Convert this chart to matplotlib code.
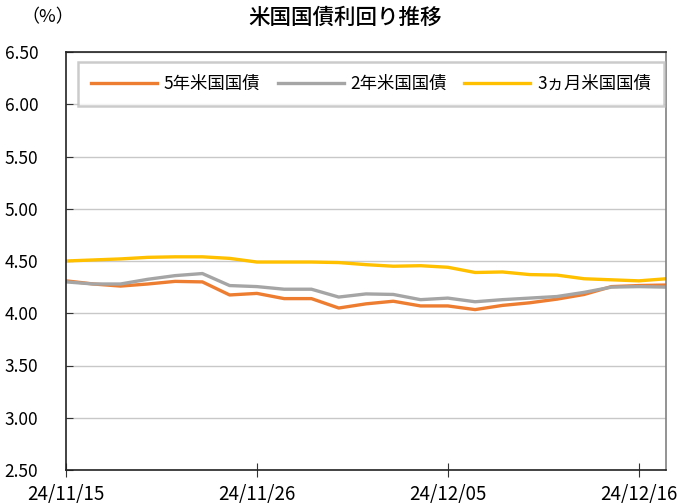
import matplotlib
matplotlib.use("Agg")
import matplotlib.pyplot as plt

plt.rcParams['font.family'] = ['Noto Sans CJK JP', 'DejaVu Sans']

dates = ["24/11/15", "24/11/18", "24/11/19", "24/11/20", "24/11/21", "24/11/22",
         "24/11/25", "24/11/26", "24/11/27", "24/11/28", "24/11/29", "24/12/02",
         "24/12/03", "24/12/04", "24/12/05", "24/12/06", "24/12/09", "24/12/10",
         "24/12/11", "24/12/12", "24/12/13", "24/12/16", "24/12/17"]

y5 = [4.31, 4.28, 4.26, 4.28, 4.305, 4.30, 4.175, 4.19, 4.14, 4.14, 4.05, 4.09,
      4.115, 4.07, 4.07, 4.035, 4.075, 4.10, 4.135, 4.18, 4.255, 4.265, 4.27]
y2 = [4.30, 4.28, 4.28, 4.325, 4.36, 4.38, 4.265, 4.255, 4.23, 4.23, 4.155, 4.185,
      4.18, 4.13, 4.145, 4.11, 4.13, 4.145, 4.16, 4.20, 4.25, 4.255, 4.25]
y3m = [4.50, 4.51, 4.52, 4.535, 4.54, 4.54, 4.525, 4.49, 4.49, 4.49, 4.485, 4.465,
       4.45, 4.455, 4.44, 4.39, 4.395, 4.37, 4.365, 4.33, 4.32, 4.31, 4.33]

labels = ["5年米国国債", "2年米国国債", "3ヵ月米国国債"]
colors = ["#ED7D31", "#A5A5A5", "#FFC000"]
yticks = [2.50, 3.00, 3.50, 4.00, 4.50, 5.00, 5.50, 6.00, 6.50]
tick_idx = [0, 7, 14, 21]

fig = plt.figure(figsize=(6.78, 5.04), dpi=100)
ax = fig.add_axes([66/678, 1-470/504, 600/678, 418/504])

x = list(range(len(dates)))
for ys, lab, c in zip([y5, y2, y3m], labels, colors):
    ax.plot(x, ys, color=c, lw=2.4, label=lab, solid_joinstyle='round')

ax.set_xlim(0, len(dates)-1)
ax.set_ylim(2.5, 6.5)
ax.set_yticks(yticks)
ax.set_yticklabels([f"{v:.2f}" for v in yticks], fontsize=12.5)
ax.set_xticks(tick_idx)
ax.set_xticklabels([dates[i] for i in tick_idx], fontsize=13.5)
ax.grid(axis='y', color='#C8C8C8', lw=1)
ax.set_axisbelow(True)
ax.tick_params(axis='y', direction='in', length=5, pad=20, color='#333333')
ax.tick_params(axis='x', direction='inout', length=10, pad=5, color='#333333')
for s in ['left', 'bottom', 'top']:
    ax.spines[s].set_color('#222222')
    ax.spines[s].set_linewidth(1.2)
ax.spines['right'].set_color('#808080')
ax.spines['right'].set_linewidth(1.2)

leg = ax.legend(loc='upper left', bbox_to_anchor=(0.02, 0.976, 0.977, 0.0),
                mode='expand', ncol=3, fontsize=12.5, frameon=True, fancybox=False,
                edgecolor='#BFBFBF', handlelength=3.8, borderpad=0.75,
                handletextpad=0.4, borderaxespad=0)
leg.get_frame().set_linewidth(1.8)

fig.text(345/678, 1-18/504, "米国国債利回り推移", ha='center', va='center', fontsize=15.5,
         weight='medium')
fig.text(48/678, 1-17/504, "（%）", ha='center', va='center', fontsize=13)

fig.savefig("out.png", dpi=100)
